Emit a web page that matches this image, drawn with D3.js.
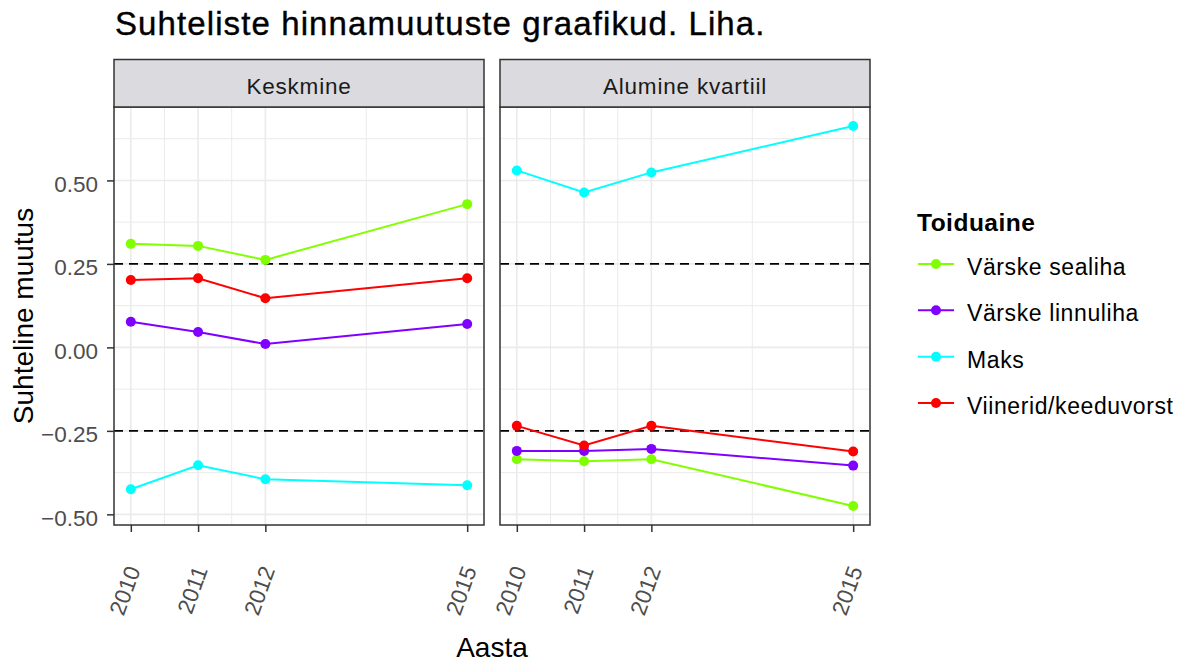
<!DOCTYPE html>
<html>
<head>
<meta charset="utf-8">
<script src="https://cdn.jsdelivr.net/npm/d3@7"></script>
<style>
  body { margin: 0; background: #fff; }
  svg { font-family: "Liberation Sans", Arial, sans-serif; }
</style>
</head>
<body>
<div id="chart"></div>
<script>
const years = [2010, 2011, 2012, 2015];
const facets = ['Keskmine', 'Alumine kvartiil'];
const foods = ['Värske sealiha', 'Värske linnuliha', 'Maks', 'Viinerid/keeduvorst'];
const colors = ['#80FF00', '#8000FF', '#00FFFF', '#FF0000'];

// Keskmine
const meanSealiha = [0.310, 0.304, 0.262, 0.429];
const meanLinnuliha = [0.077, 0.046, 0.010, 0.070];
const meanMaks = [-0.425, -0.353, -0.395, -0.413];
const meanViinerid = [0.202, 0.207, 0.147, 0.207];

// Alumine kvartiil
const lowSealiha = [-0.335, -0.341, -0.335, -0.475];
const lowLinnuliha = [-0.310, -0.310, -0.304, -0.354];
const lowMaks = [0.530, 0.464, 0.524, 0.663];
const lowViinerid = [-0.235, -0.294, -0.235, -0.312];

const refLines = [0.25, -0.25];
const yTicks = [-0.5, -0.25, 0, 0.25, 0.5];
const yMinor = [-0.375, -0.125, 0.125, 0.375, 0.625];
const xMinor = [2010.5, 2011.5, 2013.5];

const panelData = [
  [meanSealiha, meanLinnuliha, meanMaks, meanViinerid],
  [lowSealiha, lowLinnuliha, lowMaks, lowViinerid]
];

const W = 1181, H = 664;
const panelTop = 107, panelBottom = 525, stripTop = 59.5;
const panelX = [114, 500], panelW = 370;

const svg = d3.select('#chart').append('svg')
    .attr('width', W).attr('height', H);

const allVals = panelData.flat(2);
const [vmin, vmax] = d3.extent(allVals);
const pad = (vmax - vmin) * 0.05;
const y = d3.scaleLinear().domain([vmin - pad, vmax + pad]).range([panelBottom, panelTop]);
const xpad = (d3.max(years) - d3.min(years)) * 0.05;

const line = d3.line();

facets.forEach((name, fi) => {
  const x0 = panelX[fi];
  const x = d3.scaleLinear()
      .domain([d3.min(years) - xpad, d3.max(years) + xpad])
      .range([x0, x0 + panelW]);

  const g = svg.append('g');

  // grid
  g.append('g').selectAll('line').data(yMinor.filter(v => y(v) > panelTop)).join('line')
      .attr('x1', x0).attr('x2', x0 + panelW)
      .attr('y1', d => y(d)).attr('y2', d => y(d))
      .attr('stroke', '#EBEBEB').attr('stroke-width', 1);
  g.append('g').selectAll('line').data(xMinor).join('line')
      .attr('x1', d => x(d)).attr('x2', d => x(d))
      .attr('y1', panelTop).attr('y2', panelBottom)
      .attr('stroke', '#EBEBEB').attr('stroke-width', 1);
  g.append('g').selectAll('line').data(yTicks).join('line')
      .attr('x1', x0).attr('x2', x0 + panelW)
      .attr('y1', d => y(d)).attr('y2', d => y(d))
      .attr('stroke', '#EBEBEB').attr('stroke-width', 1.6);
  g.append('g').selectAll('line').data(years).join('line')
      .attr('x1', d => x(d)).attr('x2', d => x(d))
      .attr('y1', panelTop).attr('y2', panelBottom)
      .attr('stroke', '#EBEBEB').attr('stroke-width', 1.6);

  // dashed reference lines
  g.append('g').selectAll('line').data(refLines).join('line')
      .attr('x1', x0).attr('x2', x0 + panelW)
      .attr('y1', d => y(d)).attr('y2', d => y(d))
      .attr('stroke', '#000').attr('stroke-width', 1.6)
      .attr('stroke-dasharray', '9,6');

  // series
  panelData[fi].forEach((vals, si) => {
    const pts = vals.map((v, i) => [x(years[i]), y(v)]);
    g.append('path')
        .attr('d', line(pts))
        .attr('fill', 'none')
        .attr('stroke', colors[si])
        .attr('stroke-width', 2);
    g.append('g').selectAll('circle').data(pts).join('circle')
        .attr('cx', d => d[0]).attr('cy', d => d[1]).attr('r', 5)
        .attr('fill', colors[si]);
  });

  // panel border
  g.append('rect')
      .attr('x', x0).attr('y', panelTop)
      .attr('width', panelW).attr('height', panelBottom - panelTop)
      .attr('fill', 'none').attr('stroke', '#333').attr('stroke-width', 1.5);

  // strip
  g.append('rect')
      .attr('x', x0).attr('y', stripTop)
      .attr('width', panelW).attr('height', panelTop - stripTop)
      .attr('fill', '#DBDADE').attr('stroke', '#333').attr('stroke-width', 1.5);
  g.append('text')
      .attr('x', x0 + panelW / 2).attr('y', 94)
      .attr('text-anchor', 'middle')
      .attr('font-size', 22.5)
      .attr('letter-spacing', 0.8)
      .attr('fill', '#1A1A1A')
      .text(name);

  // x axis
  const xAxis = g.append('g')
      .attr('transform', `translate(0,${panelBottom})`)
      .call(d3.axisBottom(x).tickValues(years).tickSize(7).tickSizeOuter(0).tickFormat(d3.format('d')));
  xAxis.select('.domain').remove();
  xAxis.selectAll('.tick line').attr('stroke', '#333').attr('stroke-width', 1.5);
  xAxis.selectAll('.tick text')
      .attr('font-size', 22.5)
      .attr('font-family', '"Liberation Sans", Arial, sans-serif')
      .attr('fill', '#4D4D4D')
      .attr('text-anchor', 'end')
      .attr('dy', '0.35em')
      .attr('y', 0)
      .attr('transform', 'translate(2,42) rotate(-70)');

  if (fi === 0) {
    const yAxis = g.append('g')
        .attr('transform', `translate(${x0},0)`)
        .call(d3.axisLeft(y).tickValues(yTicks).tickSize(7).tickPadding(9).tickSizeOuter(0).tickFormat(d3.format('.2f')));
    yAxis.select('.domain').remove();
    yAxis.selectAll('.tick line').attr('stroke', '#333').attr('stroke-width', 1.5);
    yAxis.selectAll('.tick text')
        .attr('font-size', 22.5)
        .attr('font-family', '"Liberation Sans", Arial, sans-serif')
        .attr('fill', '#4D4D4D')
        .attr('dy', '0.48em');
  }
});

// titles
svg.append('text')
    .attr('x', 115).attr('y', 35)
    .attr('font-size', 33)
    .attr('letter-spacing', 1.1)
    .attr('fill', '#000')
    .attr('stroke', '#000').attr('stroke-width', 0.4)
    .text('Suhteliste hinnamuutuste graafikud. Liha.');

svg.append('text')
    .attr('x', 492).attr('y', 657)
    .attr('text-anchor', 'middle')
    .attr('font-size', 28)
    .attr('fill', '#000')
    .text('Aasta');

svg.append('text')
    .attr('transform', 'translate(33,316) rotate(-90)')
    .attr('text-anchor', 'middle')
    .attr('font-size', 28)
    .attr('fill', '#000')
    .text('Suhteline muutus');

// legend
const legend = svg.append('g');
legend.append('text')
    .attr('x', 917).attr('y', 231)
    .attr('font-size', 24.5)
    .attr('font-weight', 'bold')
    .attr('letter-spacing', 0.5)
    .text('Toiduaine');

const rowY = d3.scalePoint().domain(foods).range([264, 403]);
const items = legend.selectAll('g.item').data(foods).join('g')
    .attr('class', 'item')
    .attr('transform', d => `translate(0,${rowY(d)})`);
items.append('line')
    .attr('x1', 918).attr('x2', 954)
    .attr('stroke', (d, i) => colors[i]).attr('stroke-width', 2);
items.append('circle')
    .attr('cx', 936).attr('r', 5)
    .attr('fill', (d, i) => colors[i]);
items.append('text')
    .attr('x', 967).attr('y', 11)
    .attr('font-size', 23)
    .attr('letter-spacing', 0.6)
    .attr('fill', '#000')
    .text(d => d);
</script>
</body>
</html>
